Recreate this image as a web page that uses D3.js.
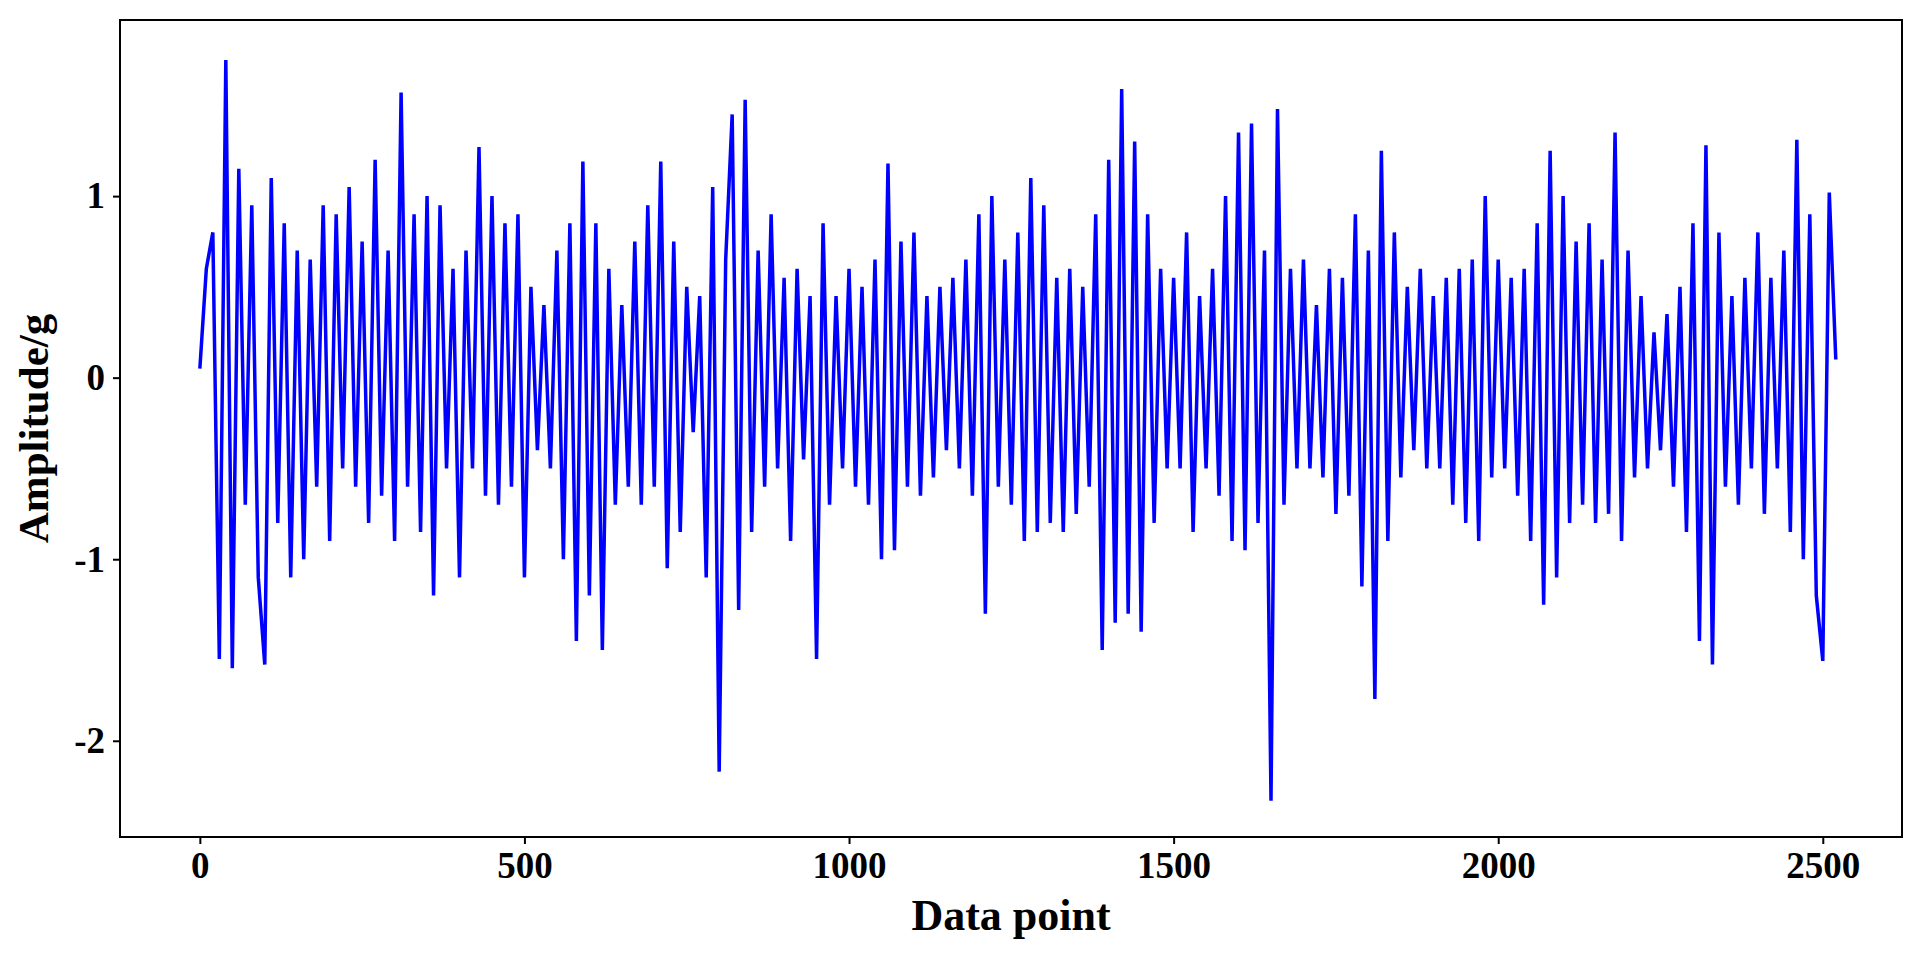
<!DOCTYPE html>
<html>
<head>
<meta charset="utf-8">
<script src="https://cdn.jsdelivr.net/npm/d3@7"></script>
<style>
  body { margin: 0; background: #fff; }
  text { font-family: "Liberation Serif", "Times New Roman", serif; font-weight: bold; }
</style>
</head>
<body>
<svg id="chart"></svg>
<script>
// amplitude read every 10 data points
const step = 10;
const amplitude = [
  0.05, 0.6, 0.8, -1.55, 1.75, -1.6, 1.15, -0.7, 0.95, -1.1,
  -1.58, 1.1, -0.8, 0.85, -1.1, 0.7, -1.0, 0.65, -0.6, 0.95,
  -0.9, 0.9, -0.5, 1.05, -0.6, 0.75, -0.8, 1.2, -0.65, 0.7,
  -0.9, 1.57, -0.6, 0.9, -0.85, 1.0, -1.2, 0.95, -0.5, 0.6,
  -1.1, 0.7, -0.5, 1.27, -0.65, 1.0, -0.7, 0.85, -0.6, 0.9,
  -1.1, 0.5, -0.4, 0.4, -0.5, 0.7, -1.0, 0.85, -1.45, 1.19,
  -1.2, 0.85, -1.5, 0.6, -0.7, 0.4, -0.6, 0.75, -0.7, 0.95,
  -0.6, 1.19, -1.05, 0.75, -0.85, 0.5, -0.3, 0.45, -1.1, 1.05,
  -2.17, 0.65, 1.45, -1.28, 1.53, -0.85, 0.7, -0.6, 0.9, -0.5,
  0.55, -0.9, 0.6, -0.45, 0.45, -1.55, 0.85, -0.7, 0.45, -0.5,
  0.6, -0.6, 0.5, -0.7, 0.65, -1.0, 1.18, -0.95, 0.75, -0.6,
  0.8, -0.65, 0.45, -0.55, 0.5, -0.4, 0.55, -0.5, 0.65, -0.65,
  0.9, -1.3, 1.0, -0.6, 0.65, -0.7, 0.8, -0.9, 1.1, -0.85,
  0.95, -0.8, 0.55, -0.85, 0.6, -0.75, 0.5, -0.6, 0.9, -1.5,
  1.2, -1.35, 1.59, -1.3, 1.3, -1.4, 0.9, -0.8, 0.6, -0.5,
  0.55, -0.5, 0.8, -0.85, 0.45, -0.5, 0.6, -0.65, 1.0, -0.9,
  1.35, -0.95, 1.4, -0.8, 0.7, -2.33, 1.48, -0.7, 0.6, -0.5,
  0.65, -0.5, 0.4, -0.55, 0.6, -0.75, 0.55, -0.65, 0.9, -1.15,
  0.7, -1.77, 1.25, -0.9, 0.8, -0.55, 0.5, -0.4, 0.6, -0.5,
  0.45, -0.5, 0.55, -0.7, 0.6, -0.8, 0.65, -0.9, 1.0, -0.55,
  0.65, -0.5, 0.55, -0.65, 0.6, -0.9, 0.85, -1.25, 1.25, -1.1,
  1.0, -0.8, 0.75, -0.7, 0.85, -0.8, 0.65, -0.75, 1.35, -0.9,
  0.7, -0.55, 0.45, -0.5, 0.25, -0.4, 0.35, -0.6, 0.5, -0.85,
  0.85, -1.45, 1.28, -1.58, 0.8, -0.6, 0.45, -0.7, 0.55, -0.5,
  0.8, -0.75, 0.55, -0.5, 0.7, -0.85, 1.31, -1.0, 0.9, -1.2,
  -1.56, 1.02, 0.1
];
const xTicks = [0, 500, 1000, 1500, 2000, 2500];
const yTicks = [-2, -1, 0, 1];

const W = 1917, H = 959;
const margin = { top: 20, right: 15, bottom: 122, left: 120 };
const width = W - margin.left - margin.right;
const height = H - margin.top - margin.bottom;

const svg = d3.select('#chart').attr('width', W).attr('height', H)
  .append('g')
  .attr('transform', `translate(${margin.left},${margin.top})`);

const x = d3.scaleLinear().domain([-123, 2622]).range([0, width]);
const y = d3.scaleLinear().domain([-2.53, 1.97]).range([height, 0]);

const line = d3.line()
  .x((d, i) => x(i * step))
  .y((d) => y(d));

svg.append('path')
  .datum(amplitude)
  .attr('fill', 'none')
  .attr('stroke', '#0000ff')
  .attr('stroke-width', 3.5)
  .attr('d', line);

const fmt = (d) => String(d);
const xAxis = d3.axisBottom(x).tickValues(xTicks).tickFormat(fmt).tickSize(7).tickPadding(8);
const yAxis = d3.axisLeft(y).tickValues(yTicks).tickFormat(fmt).tickSize(7).tickPadding(8);

svg.append('g').attr('transform', `translate(0,${height})`).call(xAxis)
  .call((g) => g.select('.domain').remove())
  .selectAll('text').attr('font-size', '37px').attr('fill', '#000');
svg.append('g').call(yAxis)
  .call((g) => g.select('.domain').remove())
  .selectAll('text').attr('font-size', '37px').attr('fill', '#000');
svg.selectAll('.tick line').attr('stroke', '#000').attr('stroke-width', 2);

svg.append('rect')
  .attr('width', width).attr('height', height)
  .attr('fill', 'none').attr('stroke', '#000').attr('stroke-width', 2);

svg.append('text')
  .attr('x', width / 2).attr('y', height + 93)
  .attr('text-anchor', 'middle').attr('font-size', '44px')
  .text('Data point');

svg.append('text')
  .attr('transform', `translate(-72,${height / 2}) rotate(-90)`)
  .attr('text-anchor', 'middle').attr('font-size', '43px')
  .text('Amplitude/g');
</script>
</body>
</html>
